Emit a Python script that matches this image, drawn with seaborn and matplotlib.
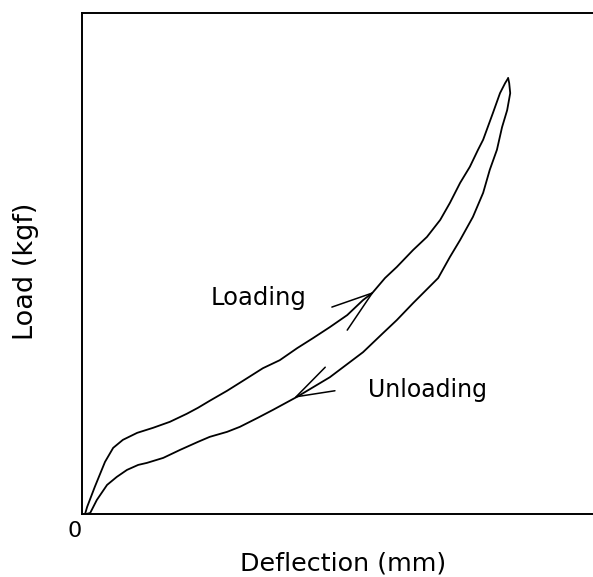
import matplotlib
matplotlib.use("Agg")
import matplotlib.pyplot as plt
import seaborn as sns

# Data (arbitrary units: deflection 0-10, load 0-10)
loading_x = [0.06, 0.10, 0.25, 0.45, 0.61, 0.80, 1.08, 1.39, 1.72, 2.05, 2.27, 2.50, 2.84,
             3.09, 3.23, 3.54, 3.87, 4.21, 4.52, 4.85, 5.19, 5.50, 5.68, 5.93, 6.16, 6.48,
             6.75, 7.01, 7.20, 7.40, 7.59, 7.75, 7.85, 8.04, 8.18, 8.28, 8.34]
loading_y = [0.00, 0.14, 0.54, 1.04, 1.32, 1.48, 1.62, 1.72, 1.84, 2.00, 2.12, 2.26, 2.46,
             2.62, 2.71, 2.91, 3.07, 3.31, 3.51, 3.73, 3.97, 4.27, 4.41, 4.71, 4.93, 5.27,
             5.53, 5.87, 6.21, 6.61, 6.93, 7.27, 7.47, 8.00, 8.40, 8.60, 8.70]

unloading_x = [0.08, 0.16, 0.29, 0.49, 0.68, 0.88, 1.10, 1.27, 1.59, 1.92, 2.27, 2.50, 2.84,
               3.09, 3.44, 3.74, 4.21, 4.85, 5.50, 5.89, 6.16, 6.48, 6.97, 7.20, 7.40, 7.65,
               7.85, 7.98, 8.12, 8.22, 8.32, 8.38, 8.36, 8.34]
unloading_y = [0.00, 0.02, 0.28, 0.58, 0.74, 0.88, 0.98, 1.02, 1.12, 1.28, 1.44, 1.54, 1.64,
               1.74, 1.92, 2.08, 2.34, 2.73, 3.23, 3.61, 3.87, 4.21, 4.71, 5.13, 5.47, 5.93,
               6.41, 6.87, 7.27, 7.72, 8.06, 8.40, 8.60, 8.70]

labels = ["Loading", "Unloading"]
x_label = "Deflection (mm)"
y_label = "Load (kgf)"
origin_label = "0"

sns.set_style("white")
plt.rcParams["font.family"] = ["DejaVu Sans"]
plt.rcParams["text.color"] = "black"
plt.rcParams["axes.labelcolor"] = "black"

fig = plt.figure(figsize=(5.93, 5.77), dpi=100)
ax = fig.add_axes([82/593, 63/577, 511/593, 501/577])

sns.lineplot(x=loading_x, y=loading_y, sort=False, estimator=None, color="black", lw=1.3, ax=ax)
sns.lineplot(x=unloading_x, y=unloading_y, sort=False, estimator=None, color="black", lw=1.3, ax=ax)

ax.set_xlim(0, 10)
ax.set_ylim(0, 10)
ax.set_xticks([])
ax.set_yticks([])
for side in ["left", "top", "bottom"]:
    ax.spines[side].set_color("black")
    ax.spines[side].set_linewidth(1.4)
ax.spines["right"].set_visible(False)

# Annotation leader lines
lw_a = 1.1
ax.plot([4.89, 5.68], [4.13, 4.41], color="black", lw=lw_a)
ax.plot([5.19, 5.68], [3.67, 4.41], color="black", lw=lw_a)
ax.plot([4.95, 4.19], [2.46, 2.34], color="black", lw=lw_a)
ax.plot([4.76, 4.19], [2.93, 2.34], color="black", lw=lw_a)

ax.text(2.52, 4.17, labels[0], fontsize=17.5, ha="left", va="baseline", color="black")
ax.text(5.60, 2.34, labels[1], fontsize=17, ha="left", va="baseline", color="black")
ax.text(-0.137, -0.46, origin_label, fontsize=16, ha="center", va="baseline",
        clip_on=False, color="black")

ax.set_xlabel(x_label, fontsize=18.3, va="baseline")
ax.xaxis.set_label_coords(0.511, -0.112)
ax.set_ylabel(y_label, fontsize=19.5, va="baseline")
ax.yaxis.set_label_coords(-0.096, 0.485)

fig.savefig("out.png", dpi=100)
